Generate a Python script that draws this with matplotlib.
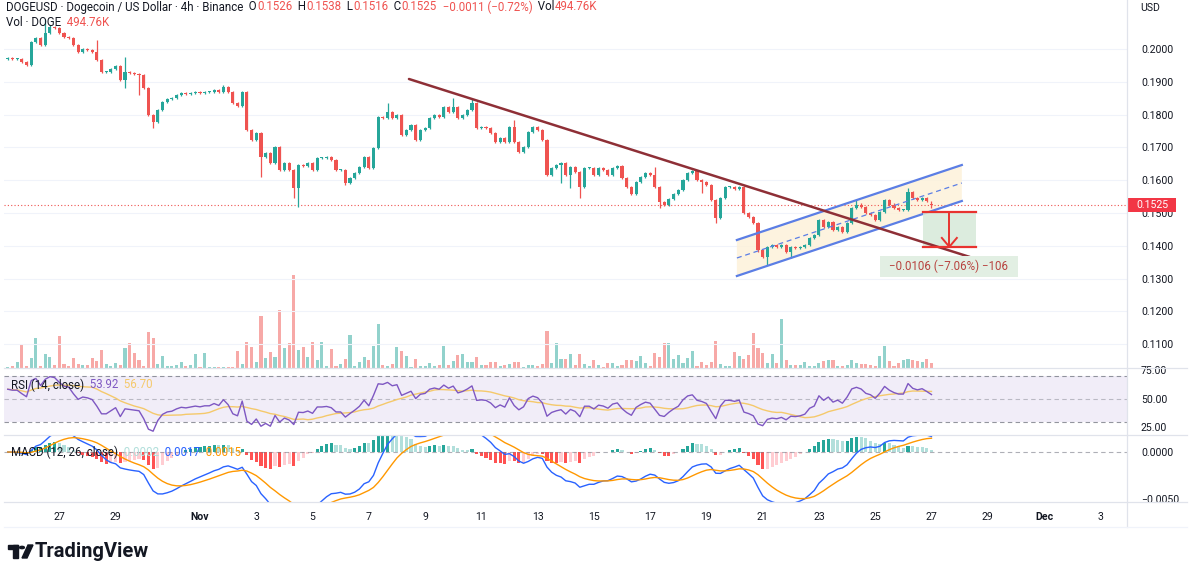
import numpy as np
import pandas as pd
import matplotlib
matplotlib.use("Agg")
import matplotlib.pyplot as plt
from matplotlib.patches import Rectangle, Polygon, Circle

W, H = 1200, 581

# 4h closes of DOGEUSD, candle 1 = Oct 25 04:00
CLOSES = [
    0.1973, 0.1970, 0.1970, 0.1960, 0.1951, 0.2021, 0.2034, 0.2012, 0.2049, 0.2067,
    0.2064, 0.2049, 0.2037, 0.2034, 0.2012, 0.1991, 0.2000, 0.1997, 0.1991, 0.1966,
    0.1930, 0.1930, 0.1939, 0.1948, 0.1905, 0.1930, 0.1927, 0.1924, 0.1921, 0.1881,
    0.1799, 0.1777, 0.1814, 0.1838, 0.1848, 0.1851, 0.1860, 0.1866, 0.1863, 0.1866,
    0.1869, 0.1866, 0.1869, 0.1869, 0.1875, 0.1869, 0.1884, 0.1869, 0.1835, 0.1826,
    0.1869, 0.1753, 0.1723, 0.1744, 0.1671, 0.1683, 0.1652, 0.1701, 0.1631, 0.1652,
    0.1631, 0.1576, 0.1646, 0.1643, 0.1652, 0.1631, 0.1668, 0.1668, 0.1671, 0.1662,
    0.1631, 0.1631, 0.1591, 0.1607, 0.1622, 0.1640, 0.1671, 0.1637, 0.1698, 0.1793,
    0.1790, 0.1808, 0.1790, 0.1799, 0.1738, 0.1753, 0.1768, 0.1723, 0.1753, 0.1759,
    0.1790, 0.1799, 0.1793, 0.1823, 0.1808, 0.1823, 0.1790, 0.1799, 0.1814, 0.1835,
    0.1759, 0.1762, 0.1759, 0.1744, 0.1716, 0.1729, 0.1716, 0.1762, 0.1716, 0.1686,
    0.1701, 0.1747, 0.1762, 0.1753, 0.1723, 0.1616, 0.1637, 0.1646, 0.1652, 0.1616,
    0.1640, 0.1625, 0.1579, 0.1637, 0.1637, 0.1616, 0.1637, 0.1631, 0.1616, 0.1637,
    0.1643, 0.1607, 0.1579, 0.1558, 0.1595, 0.1610, 0.1622, 0.1616, 0.1579, 0.1534,
    0.1525, 0.1543, 0.1558, 0.1570, 0.1601, 0.1622, 0.1628, 0.1601, 0.1595, 0.1585,
    0.1540, 0.1485, 0.1546, 0.1579, 0.1579, 0.1573, 0.1579, 0.1500, 0.1488, 0.1470,
    0.1387, 0.1366, 0.1396, 0.1402, 0.1396, 0.1402, 0.1381, 0.1396, 0.1393, 0.1396,
    0.1402, 0.1424, 0.1433, 0.1479, 0.1457, 0.1473, 0.1448, 0.1457, 0.1442, 0.1470,
    0.1515, 0.1525, 0.1518, 0.1500, 0.1494, 0.1479, 0.1503, 0.1540, 0.1525, 0.1515,
    0.1509, 0.1509, 0.1564, 0.1546, 0.1540, 0.1546, 0.1536, 0.1525,
]
FIRST_OPEN = 0.1970
LAST_OPEN = 0.1526

# candles with a visible wick: candle number -> (high, low)
WICKS = {
    9: (0.2090, None), 10: (0.2073, None), 20: (0.2027, None), 26: (0.1976, 0.1881),
    29: (None, 0.1860), 32: (None, 0.1759), 47: (0.1890, None), 55: (None, 0.1610),
    62: (None, 0.1546), 63: (None, 0.1518), 73: (None, 0.1585), 82: (0.1835, None),
    96: (0.1851, None), 100: (0.1848, None), 109: (0.1784, None), 119: (None, 0.1591),
    121: (None, 0.1576), 123: (None, 0.1546), 139: (0.1640, None), 140: (None, 0.1515),
    149: (None, 0.1561), 152: (None, 0.1470), 161: (None, 0.1381), 163: (None, 0.1341),
    168: (None, 0.1363), 182: (0.1540, None), 193: (0.1576, None), 198: (0.1538, 0.1516),
}
SMALL_WICK = 0.0004

VOLUME_K = [
    100, 200, 600, 2300, 200, 1000, 3000, 200, 1400, 1100,
    300, 3200, 400, 200, 1000, 400, 300, 300, 1000, 700,
    1800, 400, 200, 500, 300, 2000, 2500, 1500, 800, 200,
    3600, 3000, 400, 1200, 200, 200, 300, 600, 200, 300,
    1400, 100, 1500, 100, 100, 100, 100, 100, 100, 1700,
    400, 2600, 2100, 600, 5200, 1000, 1600, 1100, 5800, 2000,
    2500, 9300, 1800, 2100, 1100, 2600, 800, 2600, 200, 1900,
    200, 400, 900, 3300, 200, 600, 1100, 800, 2200, 4400,
    300, 200, 400, 2100, 1700, 1200, 100, 900, 200, 200,
    500, 200, 300, 2200, 300, 700, 1300, 1400, 600, 600,
    1100, 300, 300, 600, 600, 200, 300, 400, 600, 600,
    100, 300, 300, 200, 400, 3700, 500, 2500, 900, 900,
    1400, 300, 1400, 400, 200, 800, 300, 100, 500, 500,
    200, 300, 800, 800, 700, 1200, 500, 200, 1500, 1100,
    2500, 2500, 900, 1300, 500, 1000, 1700, 200, 600, 300,
    600, 2700, 400, 200, 200, 1600, 1200, 900, 1300, 3500,
    2000, 1500, 500, 1400, 500, 4900, 800, 300, 300, 300,
    600, 200, 200, 500, 700, 800, 800, 200, 200, 300,
    800, 500, 400, 400, 300, 200, 1200, 2200, 700, 200,
    500, 800, 900, 800, 700, 600, 900, 494.76,
]

# ticks: candle index (6 per day from Oct 25 00:00)
TICK_POS = [12, 24, 42, 54, 66, 78, 90, 102, 114, 126, 138, 150, 162, 174, 186, 198, 210, 222, 234]
TICK_LABELS = ["27", "29", "Nov", "3", "5", "7", "9", "11", "13", "15", "17", "19",
               "21", "23", "25", "27", "29", "Dec", "3"]
PRICE_TICKS = [0.11, 0.12, 0.13, 0.14, 0.15, 0.16, 0.17, 0.18, 0.19, 0.20]
LAST_PRICE = 0.1525

UP, DOWN = "#26a69a", "#ef5350"
UP_VOL, DOWN_VOL = "#92d2cc", "#f7a9a7"
TXT = "#131722"
FONT = "Roboto"
FS = 7.6
HFS = 8.3

plt.rcParams["font.family"] = [FONT, "DejaVu Sans"]


def rect(x0, y0, x1, y1):
    return [x0 / W, 1 - y1 / H, (x1 - x0) / W, (y1 - y0) / H]


def fx(x):
    return x / W


def fy(y):
    return 1 - y / H


close = np.array(CLOSES)
opens = np.concatenate([[FIRST_OPEN], close[:-1]])
opens[-1] = LAST_OPEN
pos = np.arange(1, len(close) + 1)
highs = np.maximum(opens, close) + SMALL_WICK
lows = np.minimum(opens, close) - SMALL_WICK
for n, (hi, lo) in WICKS.items():
    if hi is not None:
        highs[n - 1] = hi
    if lo is not None:
        lows[n - 1] = lo
up = close >= opens

# RSI(14), Wilder smoothing seeded with the first 14-bar averages
cs = pd.Series(close)
delta = cs.diff().fillna(0).values
gains = np.clip(delta, 0, None)
losses = np.clip(-delta, 0, None)
ag, al = gains[1:15].mean(), losses[1:15].mean()
rsi_vals = []
for g, l in zip(gains, losses):
    ag = (ag * 13 + g) / 14
    al = (al * 13 + l) / 14
    rsi_vals.append(100 - 100 / (1 + ag / al) if al > 0 else 100)
rsi = pd.Series(rsi_vals)
rsi_ma = rsi.rolling(14, min_periods=1).mean()

macd = cs.ewm(span=12, adjust=False).mean() - cs.ewm(span=26, adjust=False).mean()
signal = macd.ewm(span=9, adjust=False).mean()
hist = macd - signal
hist_prev = hist.shift(1).fillna(0)
hist_colors = []
for h, hp in zip(hist, hist_prev):
    if h >= 0:
        hist_colors.append("#26a69a" if h >= hp else "#b2dfdb")
    else:
        hist_colors.append("#ffcdd2" if h > hp else "#ff5252")

fig = plt.figure(figsize=(W / 100, H / 100), dpi=100)
fig.patch.set_facecolor("white")

XLIM = (0.2, 239.7)
PLIM = (0.10274, 0.21494)

# volume underlay
ax_v = fig.add_axes(rect(4, 0, 1127, 368))
ax_v.bar(pos, VOLUME_K, width=0.66, color=[UP_VOL if u else DOWN_VOL for u in up], linewidth=0)
ax_v.set_xlim(*XLIM)
ax_v.set_ylim(0, 36800)
ax_v.axis("off")

# price pane
ax = fig.add_axes(rect(4, 0, 1127, 368))
ax.patch.set_alpha(0)
ax.set_xlim(*XLIM)
ax.set_ylim(*PLIM)
for p in PRICE_TICKS:
    ax.axhline(p, color="#f0f3fa", lw=0.8, zorder=0)
colors = [UP if u else DOWN for u in up]
ax.vlines(pos, lows, highs, colors=colors, lw=0.9, zorder=3)
body_lo = np.minimum(opens, close)
body_h = np.maximum(np.abs(close - opens), 0.0003)
ax.bar(pos, body_h, bottom=body_lo, width=0.66, color=colors, linewidth=0, zorder=4)
ax.axhline(LAST_PRICE, color=DOWN, lw=0.8, ls=(0, (1, 2)), zorder=2)

ax.yaxis.tick_right()
ax.set_yticks(PRICE_TICKS)
ax.set_yticklabels([f"{p:.4f}" for p in PRICE_TICKS], fontsize=FS, color=TXT)
ax.tick_params(axis="y", length=0, pad=10)
ax.set_xticks([])
for s in ax.spines.values():
    s.set_visible(False)


def px_to_data(x, y):
    return (x - 3) / 4.69, 0.2 - (y - 49) / 3280


# ascending channel
cx0, cx1 = px_to_data(737, 0)[0], px_to_data(962, 0)[0]
up0, up1 = px_to_data(0, 240)[1], px_to_data(0, 165)[1]
lo0, lo1 = px_to_data(0, 276)[1], px_to_data(0, 201)[1]
ax.add_patch(Polygon([(cx0, up0), (cx1, up1), (cx1, lo1), (cx0, lo0)], closed=True,
                     facecolor="#fdf1d8", edgecolor="none", alpha=0.8, zorder=1))
ax.plot([cx0, cx1], [up0, up1], color="#5b7ee5", lw=1.6, zorder=5)
ax.plot([cx0, cx1], [lo0, lo1], color="#5b7ee5", lw=1.6, zorder=5)
ax.plot([cx0, cx1], [(up0 + lo0) / 2, (up1 + lo1) / 2], color="#5b7ee5", lw=0.9,
        ls=(0, (4, 3)), zorder=5)

# descending trend line
tx0, ty0 = px_to_data(409, 79)
tx1, ty1 = px_to_data(970, 257)
ax.plot([tx0, tx1], [ty0, ty1], color="#8e2f36", lw=1.8, zorder=6, solid_capstyle="round")

# measure box
mx0, mx1 = px_to_data(923, 0)[0], px_to_data(976, 0)[0]
m_top, m_bot = 0.1503, 0.1397
ax.add_patch(Rectangle((mx0, m_bot), mx1 - mx0, m_top - m_bot, facecolor="#d6e9d9",
                       edgecolor="none", alpha=0.85, zorder=5))
ax.plot([mx0, mx1], [m_top, m_top], color="#e8332f", lw=1.6, zorder=7)
ax.plot([mx0, mx1], [m_bot, m_bot], color="#e8332f", lw=1.6, zorder=7)
mxc = (mx0 + mx1) / 2
ax.plot([mxc, mxc], [m_top, m_bot], color="#e8332f", lw=1.4, zorder=7)
ax.plot([mxc - 1.6, mxc, mxc + 1.6], [m_bot + 0.0027, m_bot, m_bot + 0.0027],
        color="#e8332f", lw=1.4, zorder=7)
lx0, lx1 = px_to_data(880, 0)[0], px_to_data(1018, 0)[0]
ly_top, ly_bot = px_to_data(0, 256)[1], px_to_data(0, 277)[1]
ax.add_patch(Rectangle((lx0, ly_bot), lx1 - lx0, ly_top - ly_bot, facecolor="#e2efe3",
                       edgecolor="none", zorder=6))
ax.text((lx0 + lx1) / 2, (ly_top + ly_bot) / 2, "\u22120.0106 (\u22127.06%) \u2212106",
        ha="center", va="center", fontsize=HFS, color="#b8433f", zorder=8)

# RSI pane
ax_r = fig.add_axes(rect(4, 368, 1127, 435))
ax_r.set_xlim(*XLIM)
ax_r.set_ylim(18.4, 76.7)
ax_r.axhspan(30, 70, color="#7e57c2", alpha=0.1, lw=0)
for lvl, a in [(70, 0.8), (50, 0.45), (30, 0.8)]:
    ax_r.axhline(lvl, color="#787b86", lw=0.8, ls=(0, (4, 3)), alpha=a)
ax_r.plot(pos, rsi_ma, color="#f5c96b", lw=1.0)
ax_r.plot(pos, rsi, color="#7e57c2", lw=1.0)
ax_r.yaxis.tick_right()
ax_r.set_yticks([25, 50, 75])
ax_r.set_yticklabels(["25.00", "50.00", "75.00"], fontsize=FS, color=TXT)
ax_r.tick_params(axis="y", length=0, pad=10)
ax_r.set_xticks([])
for s in ax_r.spines.values():
    s.set_visible(False)

# MACD pane
ax_m = fig.add_axes(rect(4, 435, 1127, 502))
ax_m.set_xlim(*XLIM)
ax_m.set_ylim(-0.00532, 0.00181)
ax_m.axhline(0, color="#787b86", lw=0.8, ls=(0, (4, 3)), alpha=0.6)
ax_m.bar(pos, hist, width=0.66, color=hist_colors, linewidth=0)
ax_m.plot(pos, macd, color="#2962ff", lw=1.0)
ax_m.plot(pos, signal, color="#ff9800", lw=1.0)
ax_m.yaxis.tick_right()
ax_m.set_yticks([-0.005, 0.0])
ax_m.set_yticklabels(["\u22120.0050", "0.0000"], fontsize=FS, color=TXT)
ax_m.tick_params(axis="y", length=0, pad=10)
ax_m.set_xticks(TICK_POS)
ax_m.set_xticklabels(TICK_LABELS, fontsize=FS, color=TXT)
for lbl in ax_m.get_xticklabels():
    if lbl.get_text() in ("Nov", "Dec"):
        lbl.set_fontweight("bold")
ax_m.tick_params(axis="x", length=0, pad=7)
for s in ax_m.spines.values():
    s.set_visible(False)

# pane frames
grid_c = "#e0e3eb"
for y in (368, 435, 502):
    fig.add_artist(plt.Line2D([fx(4), fx(1187)], [fy(y), fy(y)], color=grid_c, lw=0.9))
fig.add_artist(plt.Line2D([fx(1127), fx(1127)], [fy(0), fy(527)], color=grid_c, lw=0.9))
fig.add_artist(plt.Line2D([fx(4), fx(1187)], [fy(527), fy(527)], color="#f0f3fa", lw=0.9))

# last price tag
fig.add_artist(Rectangle((fx(1128), fy(212)), fx(48), 14 / H, transform=fig.transFigure,
                         facecolor="#f23645", edgecolor="none"))
fig.text(fx(1152), fy(205), f"{LAST_PRICE:.4f}", color="white", fontsize=FS,
         ha="center", va="center")
fig.text(fx(1150), fy(8), "USD", color=TXT, fontsize=FS, ha="center", va="center")

renderer = fig.canvas.get_renderer()


def pieces(x, y, parts, size):
    for text, color in parts:
        t = fig.text(fx(x), fy(y), text, color=color, fontsize=size, ha="left", va="center")
        x += t.get_window_extent(renderer).width


RED = "#ef5350"
pieces(6, 7, [
    ("DOGEUSD \u00b7 Dogecoin / US Dollar \u00b7 4h \u00b7 Binance", TXT),
    ("  O", TXT), ("0.1526", RED), ("  H", TXT), ("0.1538", RED),
    ("  L", TXT), ("0.1516", RED), ("  C", TXT), ("0.1525", RED),
    ("  \u22120.0011 (\u22120.72%)", RED), ("  Vol", TXT), ("494.76K", RED),
], HFS)
pieces(6, 22, [("Vol \u00b7 DOGE", TXT), ("  494.76K", RED)], HFS)
pieces(11, 385, [("RSI (14, close)", TXT), ("  53.92", "#7e57c2"), ("  56.70", "#f5c96b")], HFS)
pieces(11, 452, [("MACD (12, 26, close)", TXT), ("  0.0002", "#b2dfdb"),
                 ("  0.0017", "#2962ff"), ("  0.0015", "#ff9800")], HFS)

# TradingView logo
k = "#131722"
fig.add_artist(Rectangle((fx(8), fy(549)), 10 / W, 4 / H, transform=fig.transFigure, color=k))
fig.add_artist(Rectangle((fx(13), fy(558)), 5 / W, 13 / H, transform=fig.transFigure, color=k))
fig.add_artist(Circle((fx(22), fy(547.5)), 2.4 / W, transform=fig.transFigure, color=k))
fig.add_artist(Polygon([(fx(22), fy(558)), (fx(27), fy(558)), (fx(33), fy(545)), (fx(28), fy(545))],
                       closed=True, transform=fig.transFigure, color=k))
fig.text(fx(35), fy(551.5), "TradingView", fontsize=14.5, fontweight="bold", color=k,
         ha="left", va="center")

fig.savefig("out.png", dpi=100)
